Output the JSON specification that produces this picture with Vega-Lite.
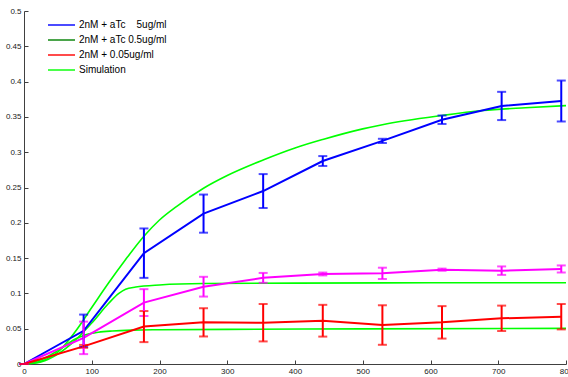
{
  "$schema": "https://vega.github.io/schema/vega-lite/v6.json",
  "width": 542,
  "height": 353,
  "autosize": "none",
  "padding": {"left": 24, "top": 11, "right": 2, "bottom": 13},
  "background": "white",
  "config": {
    "view": {"stroke": null},
    "axis": {
      "grid": false,
      "domainColor": "#404040",
      "tickColor": "#404040",
      "labelColor": "#202020",
      "labelFont": "Liberation Sans",
      "labelFontSize": 8,
      "tickSize": -4,
      "labelPadding": 7,
      "labelOverlap": false
    },
    "legend": {
      "labelFont": "Liberation Sans",
      "labelFontSize": 10,
      "labelColor": "#000000"
    }
  },
  "datasets": {
    "obs": [
      {"t": 0, "v": 0, "e": 0, "s": "2nM + aTc\u00a0\u00a0\u00a0\u00a05ug/ml"},
      {"t": 88, "v": 0.047, "e": 0.023, "s": "2nM + aTc\u00a0\u00a0\u00a0\u00a05ug/ml"},
      {"t": 177, "v": 0.157, "e": 0.035, "s": "2nM + aTc\u00a0\u00a0\u00a0\u00a05ug/ml"},
      {"t": 265, "v": 0.213, "e": 0.027, "s": "2nM + aTc\u00a0\u00a0\u00a0\u00a05ug/ml"},
      {"t": 353, "v": 0.245, "e": 0.024, "s": "2nM + aTc\u00a0\u00a0\u00a0\u00a05ug/ml"},
      {"t": 441, "v": 0.2875, "e": 0.007, "s": "2nM + aTc\u00a0\u00a0\u00a0\u00a05ug/ml"},
      {"t": 529, "v": 0.316, "e": 0.003, "s": "2nM + aTc\u00a0\u00a0\u00a0\u00a05ug/ml"},
      {"t": 617, "v": 0.346, "e": 0.006, "s": "2nM + aTc\u00a0\u00a0\u00a0\u00a05ug/ml"},
      {"t": 705, "v": 0.3655, "e": 0.02, "s": "2nM + aTc\u00a0\u00a0\u00a0\u00a05ug/ml"},
      {"t": 793, "v": 0.3725, "e": 0.029, "s": "2nM + aTc\u00a0\u00a0\u00a0\u00a05ug/ml"},
      {"t": 0, "v": 0, "e": 0, "s": "0.5ug/ml data"},
      {"t": 88, "v": 0.037, "e": 0.023, "s": "0.5ug/ml data"},
      {"t": 177, "v": 0.087, "e": 0.019, "s": "0.5ug/ml data"},
      {"t": 265, "v": 0.1095, "e": 0.014, "s": "0.5ug/ml data"},
      {"t": 353, "v": 0.122, "e": 0.007, "s": "0.5ug/ml data"},
      {"t": 441, "v": 0.1275, "e": 0.002, "s": "0.5ug/ml data"},
      {"t": 529, "v": 0.1284, "e": 0.008, "s": "0.5ug/ml data"},
      {"t": 617, "v": 0.1336, "e": 0.0015, "s": "0.5ug/ml data"},
      {"t": 705, "v": 0.1322, "e": 0.006, "s": "0.5ug/ml data"},
      {"t": 793, "v": 0.1346, "e": 0.005, "s": "0.5ug/ml data"},
      {"t": 0, "v": 0, "e": 0, "s": "2nM + 0.05ug/ml"},
      {"t": 88, "v": 0.025, "e": 0.002, "s": "2nM + 0.05ug/ml"},
      {"t": 177, "v": 0.053, "e": 0.022, "s": "2nM + 0.05ug/ml"},
      {"t": 265, "v": 0.059, "e": 0.02, "s": "2nM + 0.05ug/ml"},
      {"t": 353, "v": 0.0585, "e": 0.0265, "s": "2nM + 0.05ug/ml"},
      {"t": 441, "v": 0.0613, "e": 0.0225, "s": "2nM + 0.05ug/ml"},
      {"t": 529, "v": 0.0552, "e": 0.028, "s": "2nM + 0.05ug/ml"},
      {"t": 617, "v": 0.059, "e": 0.023, "s": "2nM + 0.05ug/ml"},
      {"t": 705, "v": 0.0647, "e": 0.018, "s": "2nM + 0.05ug/ml"},
      {"t": 793, "v": 0.067, "e": 0.018, "s": "2nM + 0.05ug/ml"}
    ],
    "sim": [
      {"c": "high", "t": 0, "v": 0}, {"c": "high", "t": 25, "v": 0.004}, {"c": "high", "t": 50, "v": 0.017},
      {"c": "high", "t": 75, "v": 0.045}, {"c": "high", "t": 100, "v": 0.08}, {"c": "high", "t": 125, "v": 0.115},
      {"c": "high", "t": 150, "v": 0.148}, {"c": "high", "t": 177, "v": 0.181}, {"c": "high", "t": 200, "v": 0.204},
      {"c": "high", "t": 225, "v": 0.223}, {"c": "high", "t": 265, "v": 0.249}, {"c": "high", "t": 300, "v": 0.267},
      {"c": "high", "t": 353, "v": 0.289}, {"c": "high", "t": 400, "v": 0.306}, {"c": "high", "t": 441, "v": 0.318},
      {"c": "high", "t": 500, "v": 0.333}, {"c": "high", "t": 529, "v": 0.339}, {"c": "high", "t": 617, "v": 0.352},
      {"c": "high", "t": 677, "v": 0.359}, {"c": "high", "t": 740, "v": 0.363}, {"c": "high", "t": 800, "v": 0.366},
      {"c": "mid", "t": 0, "v": 0}, {"c": "mid", "t": 25, "v": 0.003}, {"c": "mid", "t": 50, "v": 0.014},
      {"c": "mid", "t": 75, "v": 0.033}, {"c": "mid", "t": 100, "v": 0.058}, {"c": "mid", "t": 125, "v": 0.086},
      {"c": "mid", "t": 140, "v": 0.1}, {"c": "mid", "t": 150, "v": 0.106}, {"c": "mid", "t": 165, "v": 0.109},
      {"c": "mid", "t": 200, "v": 0.112}, {"c": "mid", "t": 265, "v": 0.114}, {"c": "mid", "t": 400, "v": 0.1145},
      {"c": "mid", "t": 600, "v": 0.115}, {"c": "mid", "t": 800, "v": 0.115},
      {"c": "low", "t": 0, "v": 0}, {"c": "low", "t": 25, "v": 0.006}, {"c": "low", "t": 50, "v": 0.019},
      {"c": "low", "t": 75, "v": 0.035}, {"c": "low", "t": 90, "v": 0.041}, {"c": "low", "t": 110, "v": 0.045},
      {"c": "low", "t": 130, "v": 0.0468}, {"c": "low", "t": 160, "v": 0.048}, {"c": "low", "t": 200, "v": 0.0485},
      {"c": "low", "t": 300, "v": 0.049}, {"c": "low", "t": 500, "v": 0.0498}, {"c": "low", "t": 800, "v": 0.0505}
    ]
  },
  "encoding": {
    "x": {
      "field": "t", "type": "quantitative", "title": null,
      "scale": {"domain": [0, 800], "nice": false},
      "axis": {"title": null, "values": [0, 100, 200, 300, 400, 500, 600, 700, 800], "labelFlush": false, "labelOverlap": false}
    },
    "y": {
      "field": "v", "type": "quantitative", "title": null,
      "scale": {"domain": [0, 0.5], "nice": false},
      "axis": {"title": null, "values": [0, 0.05, 0.1, 0.15, 0.2, 0.25, 0.3, 0.35, 0.4, 0.45, 0.5], "format": "~g", "labelFlush": false, "labelOverlap": false}
    },
    "color": {
      "field": "s", "type": "nominal",
      "scale": {
        "domain": ["2nM + aTc\u00a0\u00a0\u00a0\u00a05ug/ml", "2nM + aTc 0.5ug/ml", "2nM + 0.05ug/ml", "Simulation", "0.5ug/ml data"],
        "range": ["#0000ff", "#008000", "#ff0000", "#00ff00", "#ff00ff"]
      },
      "legend": {
        "values": ["2nM + aTc\u00a0\u00a0\u00a0\u00a05ug/ml", "2nM + aTc 0.5ug/ml", "2nM + 0.05ug/ml", "Simulation"],
        "title": null,
        "orient": "none",
        "legendX": 23,
        "legendY": 8,
        "symbolType": "stroke",
        "symbolSize": 729,
        "symbolStrokeWidth": 2,
        "labelOffset": 3,
        "clipHeight": 12,
        "rowPadding": 3,
        "padding": 0
      }
    }
  },
  "layer": [
    {
      "data": {"name": "sim"},
      "transform": [{"calculate": "'Simulation'", "as": "s"}],
      "mark": {"type": "line", "strokeWidth": 1.6, "interpolate": "monotone"},
      "encoding": {
        "detail": {"field": "c"}
      }
    },
    {
      "data": {"name": "obs"},
      "mark": {"type": "line", "strokeWidth": 2}
    },
    {
      "data": {"name": "obs"},
      "mark": {"type": "errorbar", "thickness": 2, "ticks": {"size": 9, "thickness": 2}},
      "encoding": {
        "yError": {"field": "e"}
      }
    }
  ]
}
